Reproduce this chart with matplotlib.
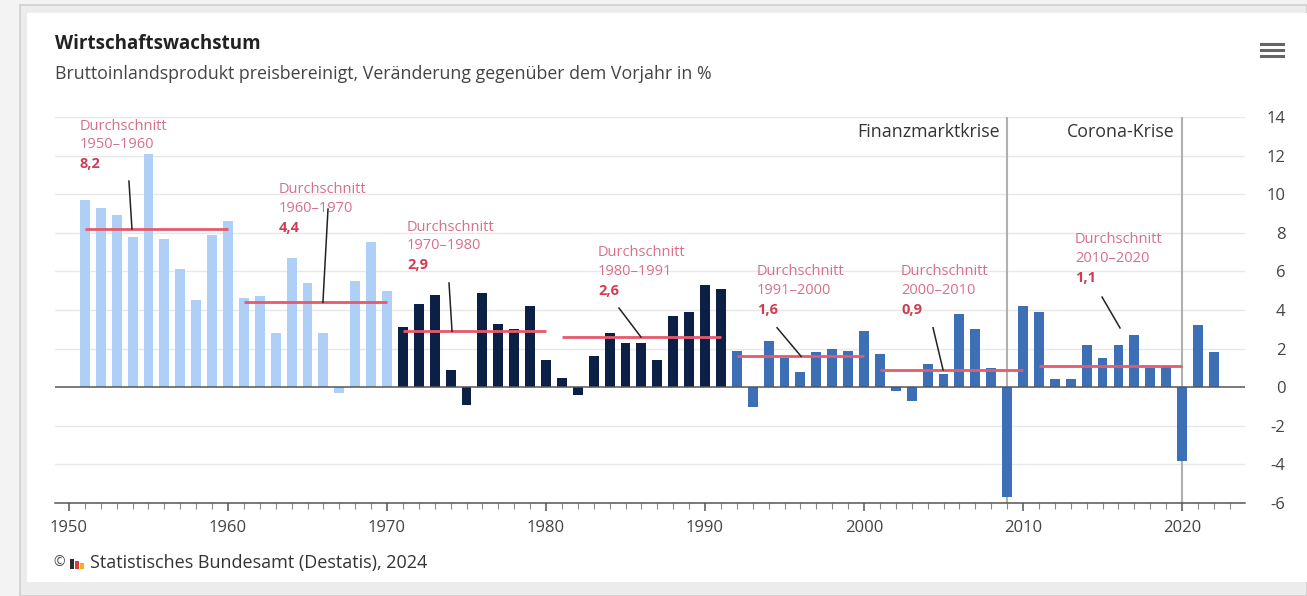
import numpy as np
import matplotlib.pyplot as plt
from matplotlib.patches import Rectangle
from matplotlib.lines import Line2D

plt.rcParams['font.family'] = ['Open Sans', 'DejaVu Sans']
plt.rcParams['axes.unicode_minus'] = False

# Wachstum des BIP (preisbereinigt) in % gegenüber Vorjahr
years = list(range(1951, 2023))
growth = [
    9.7, 9.3, 8.9, 7.8, 12.1, 7.7, 6.1, 4.5, 7.9, 8.6,      # 1951-1960
    4.6, 4.7, 2.8, 6.7, 5.4, 2.8, -0.3, 5.5, 7.5, 5.0,      # 1961-1970
    3.1, 4.3, 4.8, 0.9, -0.9, 4.9, 3.3, 3.0, 4.2, 1.4,      # 1971-1980
    0.5, -0.4, 1.6, 2.8, 2.3, 2.3, 1.4, 3.7, 3.9, 5.3,      # 1981-1990
    5.1, 1.9, -1.0, 2.4, 1.5, 0.8, 1.8, 2.0, 1.9, 2.9,      # 1991-2000
    1.7, -0.2, -0.7, 1.2, 0.7, 3.8, 3.0, 1.0, -5.7, 4.2,    # 2001-2010
    3.9, 0.4, 0.4, 2.2, 1.5, 2.2, 2.7, 1.0, 1.1, -3.8,      # 2011-2020
    3.2, 1.8,                                               # 2021-2022
]

# Durchschnitte je Periode
avg_first = [1951, 1961, 1971, 1981, 1992, 2001, 2011]
avg_last = [1960, 1970, 1980, 1991, 2000, 2010, 2020]
avg_labels = ['1950–1960', '1960–1970', '1970–1980', '1980–1991',
              '1991–2000', '2000–2010', '2010–2020']
avg_values = [8.2, 4.4, 2.9, 2.6, 1.6, 0.9, 1.1]

crisis_years = [2009, 2020]
crisis_labels = ['Finanzmarktkrise', 'Corona-Krise']

LIGHT = '#aed0f6'
DARK = '#0c1f45'
MID = '#3d6fb7'
RED = '#e55a6c'
PINK = '#d6708a'
NUMRED = '#cf3d55'


def bar_color(y):
    if y <= 1970:
        return LIGHT
    if y <= 1991:
        return DARK
    return MID


W, H = 1307, 596
fig = plt.figure(figsize=(W / 100, H / 100), dpi=100, facecolor='#f3f3f3')

# card background
fig.patches.append(Rectangle((20 / W, 0), (W - 20) / W, (H - 5) / H, transform=fig.transFigure,
                             facecolor='#ececec', edgecolor='#cfcfcf', lw=1.2, zorder=-10))
fig.patches.append(Rectangle((27 / W, (H - 582) / H), (W - 27) / W, (582 - 13) / H,
                             transform=fig.transFigure, facecolor='white', edgecolor='none', zorder=-9))

ax = fig.add_axes([55 / W, (H - 503) / H, (1245 - 55) / W, (503 - 117) / H])
ax.set_zorder(1)
ax.set_facecolor('none')
ax.set_xlim(1949.12, 2023.96)
ax.set_ylim(-6, 14)

for y in range(-6, 15, 2):
    if y != 0:
        ax.axhline(y, color='#e8e8e8', lw=1, zorder=0)

ax.bar(years, growth, width=0.62, color=[bar_color(y) for y in years], zorder=2)
ax.axhline(0, color='#555555', lw=1.1, zorder=3)

for cy, lab in zip(crisis_years, crisis_labels):
    ax.axvline(cy, color='#b0b0b0', lw=1.5, zorder=1)
    ax.text(cy - 0.45, 13.2, lab, ha='right', va='center', fontsize=12.8, color='#333333')

for a, b, v in zip(avg_first, avg_last, avg_values):
    ax.plot([a, b], [v, v], color=RED, lw=2.0, zorder=4, solid_capstyle='butt')

# annotation placement: text x, first line y, connector start and end
ann_x = [1950.69, 1963.2, 1971.26, 1983.27, 1993.27, 2002.33, 2013.27]
ann_y = [13.53, 10.22, 8.30, 6.97, 5.98, 5.98, 7.63]
conn = [((1953.77, 10.68), (1953.96, 8.2)),
        ((1966.29, 9.23), (1965.97, 4.4)),
        ((1973.9, 5.40), (1974.09, 2.9)),
        ((1984.59, 4.10), (1985.97, 2.6)),
        ((1994.53, 3.08), (1996.04, 1.6)),
        ((2004.34, 3.08), (2004.97, 0.9)),
        ((2014.97, 4.67), (2016.1, 3.07))]

for x, y0, lab, v, (p0, p1) in zip(ann_x, ann_y, avg_labels, avg_values, conn):
    ax.text(x, y0, 'Durchschnitt', ha='left', va='center', fontsize=10.5, color=PINK, zorder=5)
    ax.text(x, y0 - 0.98, lab, ha='left', va='center', fontsize=10.5, color=PINK, zorder=5)
    ax.text(x, y0 - 1.98, f'{v:.1f}'.replace('.', ','), ha='left', va='center',
            fontsize=10.5, color=NUMRED, fontweight='bold', zorder=5)
    ax.plot([p0[0], p1[0]], [p0[1], p1[1]], color='#222222', lw=1.1, zorder=5)

for s in ['top', 'left', 'right']:
    ax.spines[s].set_visible(False)
ax.spines['bottom'].set_color('#555555')
ax.spines['bottom'].set_linewidth(1.1)

ax.set_xticks(range(1950, 2021, 10))
ax.set_xticks(range(1950, 2024), minor=True)
ax.tick_params(axis='x', which='major', length=6, width=1.1, color='#555555',
               labelsize=12, labelcolor='#444444', pad=6)
ax.tick_params(axis='x', which='minor', length=4, width=0.8, color='#888888')

ax.yaxis.tick_right()
ax.set_yticks(range(-6, 15, 2))
ax.tick_params(axis='y', length=0, labelsize=12, labelcolor='#444444', pad=29)
for t in ax.get_yticklabels():
    t.set_horizontalalignment('right')

fig.text(55 / W, 1 - 44 / H, 'Wirtschaftswachstum', fontsize=13.5, fontweight='bold',
         color='#222222', va='center', ha='left')
fig.text(55 / W, 1 - 74 / H, 'Bruttoinlandsprodukt preisbereinigt, Veränderung gegenüber dem Vorjahr in %',
         fontsize=12.8, color='#444444', va='center', ha='left')
fig.text(53 / W, 1 - 563 / H, '©', fontsize=10, color='#444444', va='center', ha='left')
# small Destatis logo
for i, c in enumerate(['#2b2b2b', '#d33c3c', '#e8b420']):
    fig.patches.append(Rectangle(((70 + i * 5) / W, 1 - 569 / H), 3.5 / W, (10 - i * 2) / H,
                                 transform=fig.transFigure, facecolor=c, edgecolor='none'))
fig.text(90 / W, 1 - 563 / H, 'Statistisches Bundesamt (Destatis), 2024', fontsize=13,
         color='#333333', va='center', ha='left')

# menu icon
for dy in [44, 50, 56]:
    fig.lines.append(Line2D([1261 / W, 1283 / W], [1 - dy / H, 1 - dy / H], transform=fig.transFigure,
                            color='#666666', lw=2.2))

fig.savefig('out.png', dpi=100, facecolor=fig.get_facecolor())
